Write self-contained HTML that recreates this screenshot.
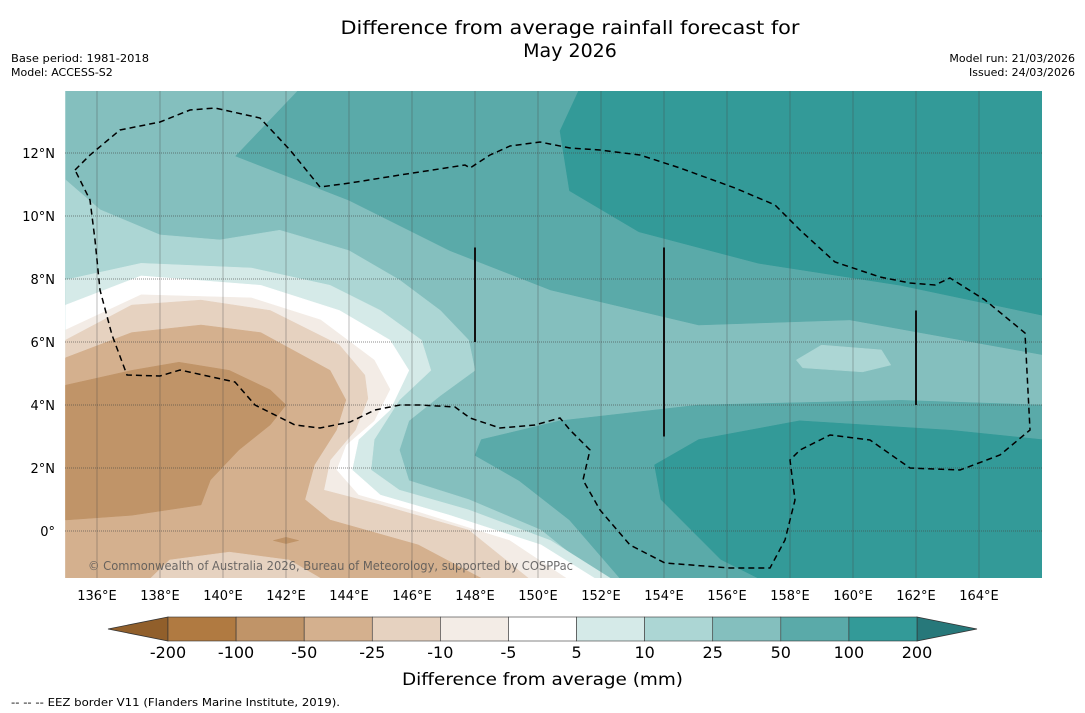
<!DOCTYPE html>
<html><head><meta charset="utf-8"><style>
body{margin:0;background:#fff;width:1085px;height:713px;overflow:hidden;font-family:"DejaVu Sans","Liberation Sans",sans-serif}
svg{position:absolute;left:0;top:0}
</style></head><body>
<svg id="c" width="1085" height="713" font-family="DejaVu Sans, Liberation Sans, sans-serif">
<text x="570" y="34" text-anchor="middle" font-size="19" textLength="459" lengthAdjust="spacingAndGlyphs">Difference from average rainfall forecast for</text>
<text x="570" y="57" text-anchor="middle" font-size="19">May 2026</text>
<text x="11" y="62" font-size="11" textLength="138" lengthAdjust="spacingAndGlyphs">Base period: 1981-2018</text>
<text x="11" y="76" font-size="11">Model: ACCESS-S2</text>
<text x="1075" y="62" font-size="11" text-anchor="end">Model run: 21/03/2026</text>
<text x="1075" y="76" font-size="11" text-anchor="end">Issued: 24/03/2026</text>
<defs><clipPath id="mc"><rect x="65" y="91" width="977" height="487"/></clipPath></defs>
<g id="map" clip-path="url(#mc)"></g>
<g id="ax"></g>
<text x="402" y="685" font-size="17" textLength="281" lengthAdjust="spacingAndGlyphs">Difference from average (mm)</text>
<text x="11" y="706" font-size="10.5" textLength="329" lengthAdjust="spacingAndGlyphs">--  --  -- EEZ border V11 (Flanders Marine Institute, 2019).</text>
</svg>
<script>
const levels=["-200","-100","-50","-25","-10","-5","5","10","25","50","100","200"];
const colors=["#b07a41","#c09468","#d4b08e","#e6d2c0","#f3ece6","#ffffff","#d5eae8","#acd6d4","#84bfbe","#5aaaa9","#339a98"];
const extendColors=["#915f2b","#27787a"];
const lonTicks=[136,138,140,142,144,146,148,150,152,154,156,158,160,162,164];
const latTicks=[0,2,4,6,8,10,12];
const regions=[
[8,[[135,14],[166,14],[166,-1.5],[135,-1.5]]],
[9,[[142.4,14],[140.4,11.9],[144,10.5],[147.2,8.9],[150.4,7.65],[155.1,6.54],[159.9,6.7],[166,5.6],[166,14]]],
[10,[[151.3,14],[150.7,12.7],[151,10.8],[153.2,9.5],[157,8.5],[161.5,7.8],[166,6.85],[166,14]]],
[9,[[148,2.4],[148.2,2.9],[150.7,3.5],[155.1,4],[161.5,4.15],[166,4],[166,-1.5],[152.6,-1.5],[151,0.35],[149.4,1.6]]],
[10,[[166,2.9],[163.1,3.2],[158.3,3.5],[155.1,2.9],[153.7,2.1],[153.9,1],[155.8,-0.9],[157,-1.5],[166,-1.5]]],
[7,[[158.2,5.43],[159,5.9],[160.9,5.75],[161.2,5.27],[160.3,5.05],[158.4,5.18]]],
[7,[[135,11.15],[136.1,10.2],[138,9.4],[139.9,9.24],[141.8,9.55],[144,8.9],[145.6,7.97],[146.9,7],[147.8,6.06],[148,5.1],[146.9,4.3],[145.9,3.5],[145.6,2.57],[145.9,1.6],[147.8,1],[150.1,0.03],[152,-1.5],[135,-1.5]]],
[6,[[135,7.97],[137.4,8.5],[140.9,8.35],[143.4,7.8],[145,7],[146.3,6.06],[146.6,5.1],[145.6,4.16],[144.8,2.9],[144.7,1.94],[145.6,1.3],[147.8,0.67],[150.4,-0.3],[152.3,-1.5],[135,-1.5]]],
[5,[[135,7.17],[137.4,8.1],[141.2,7.8],[143.7,7],[145.3,6.06],[145.9,5.1],[145.3,3.84],[144.3,2.9],[144.1,1.94],[145,1.14],[147.2,0.5],[150.1,-0.44],[151.8,-1.5],[135,-1.5]]],
[4,[[135,6.38],[137.4,7.5],[140.9,7.4],[143.1,6.7],[144.8,5.43],[145.3,4.5],[144.8,3.5],[143.9,2.73],[143.6,1.94],[144.3,1.14],[146.2,0.6],[149.1,-0.3],[150.9,-1.5],[135,-1.5]]],
[3,[[135,6.06],[137.1,7.17],[139.3,7.33],[141.5,7],[143.7,5.9],[144.5,4.95],[144.6,4.2],[144.2,3.2],[143.4,2.25],[143.2,1.3],[145,0.83],[147.8,0.03],[149.7,-1.5],[135,-1.5]]],
[2,[[135,5.5],[137.1,6.3],[139.3,6.54],[141.2,6.3],[143.4,5.1],[143.9,4.16],[143.6,3.2],[142.9,2.1],[142.6,1],[143.4,0.35],[146.2,-0.44],[148.2,-1.5],[135,-1.5]]],
[3,[[137.7,-1.5],[138.3,-0.92],[140.2,-0.67],[142.1,-0.92],[143.1,-1.5]]],
[1,[[135,4.63],[137.1,5.1],[138.6,5.36],[140.2,5.1],[141.5,4.48],[142,4],[141.5,3.37],[140.5,2.57],[139.6,1.62],[139.3,0.83],[137.1,0.5],[135,0.35]]],
[1,[[141.6,-0.3],[142,-0.2],[142.4,-0.3],[142,-0.4]]]
];
const X=lon=>65.5+(lon-135)*31.5, Y=lat=>531-lat*31.5;
const NS="http://www.w3.org/2000/svg";
function mk(p,t,a){const e=document.createElementNS(NS,t);for(const k in a)e.setAttribute(k,a[k]);p.appendChild(e);return e;}
const map=document.getElementById('map'), ax=document.getElementById('ax');
regions.forEach(r=>{
 const e=mk(map,'polygon',{points:r[1].map(p=>X(p[0]).toFixed(1)+','+Y(p[1]).toFixed(1)).join(' '),fill:colors[r[0]],stroke:colors[r[0]],'stroke-width':0.5});
 
 
});
lonTicks.forEach(l=>{
 const g=mk(map,'line',{x1:X(l),x2:X(l),y1:91,y2:578,stroke:'#444','stroke-width':0.6,'stroke-opacity':0.6});
 
 
 const t=mk(ax,'text',{x:X(l),y:600,'font-size':13,'text-anchor':'middle'});t.textContent=l+'°E';
 
 
});
latTicks.forEach(l=>{
 const g=mk(map,'line',{x1:65,x2:1042,y1:Y(l),y2:Y(l),stroke:'#444','stroke-width':0.7,'stroke-dasharray':'1 1','stroke-opacity':0.8});
 
 
 const t=mk(ax,'text',{x:55,y:Y(l)+5,'font-size':13,'text-anchor':'end'});t.textContent=l===0?'0°':l+'°N';
 
 
});
const eez=mk(map,'path',{d:"M75,170 L90,155 L120,130 L160,122 L190,110 L215,108 L260,118 L290,150 L320,187 L350,183 L400,175 L465,165 L470,168 L490,155 L510,146 L540,142 L570,148 L600,150 L640,155 L680,168 L735,188 L775,205 L800,230 L835,262 L880,277 L910,283 L935,285 L950,278 L985,300 L1025,333 L1030,430 L1000,455 L960,470 L910,468 L870,440 L830,435 L800,450 L790,460 L795,500 L785,540 L770,568 L730,568 L665,563 L630,545 L600,510 L583,480 L590,450 L570,430 L560,418 L535,425 L500,428 L470,418 L455,407 L420,405 L400,405 L375,410 L350,422 L320,428 L295,425 L255,405 L235,382 L180,370 L160,376 L127,375 L112,335 L100,290 L95,240 L90,200 Z",fill:'none',stroke:'#000','stroke-width':1.5,'stroke-dasharray':'6 4'});


[[148,9,148,6],[154,9,154,3],[162,7,162,4]].forEach(s=>{
 const l=mk(map,'line',{x1:X(s[0]),x2:X(s[2]),y1:Y(s[1]),y2:Y(s[3]),stroke:'#111','stroke-width':2});
 
 
});
const cp=mk(map,'text',{x:88,y:570,'font-size':12,fill:'#555','fill-opacity':0.85,textLength:485,lengthAdjust:'spacingAndGlyphs'});
cp.textContent='© Commonwealth of Australia 2026, Bureau of Meteorology, supported by COSPPac';


const cx0=168,cx1=917,cy=617,ch=24,bw=(cx1-cx0)/colors.length;
const lt=mk(ax,'polygon',{points:`${cx0},${cy} 108,${cy+ch/2} ${cx0},${cy+ch}`,fill:extendColors[0],stroke:'#333','stroke-width':0.8});


const rt=mk(ax,'polygon',{points:`${cx1},${cy} 977,${cy+ch/2} ${cx1},${cy+ch}`,fill:extendColors[1],stroke:'#333','stroke-width':0.8});


colors.forEach((c,i)=>{
 const r=mk(ax,'rect',{x:cx0+i*bw,y:cy,width:bw,height:ch,fill:c,stroke:'#333','stroke-width':0.6});
 
 
});
levels.forEach((l,i)=>{
 const t=mk(ax,'text',{x:cx0+i*bw,y:658,'font-size':16,'text-anchor':'middle'});t.textContent=l;
 
 
});
</script>
</body></html>
